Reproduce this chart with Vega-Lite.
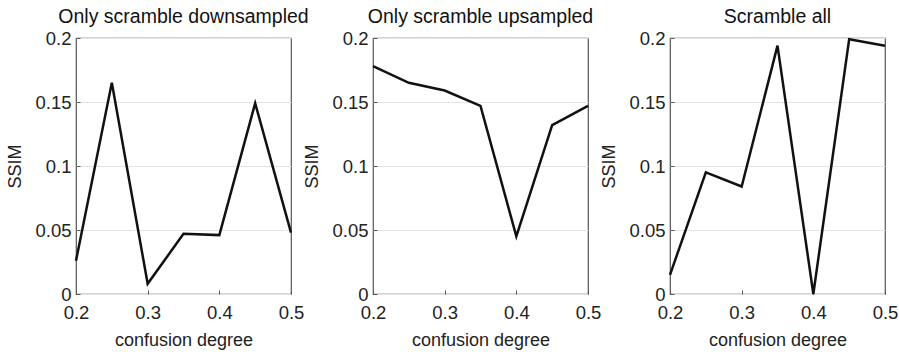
{
  "$schema": "https://vega.github.io/schema/vega-lite/v6.json",
  "padding": {"left": 6, "top": 5, "right": 10, "bottom": 1},
  "background": "white",
  "data": {"values": [
    {"panel": "A", "x": 0.2, "y": 0.026}, {"panel": "A", "x": 0.25, "y": 0.165}, {"panel": "A", "x": 0.3, "y": 0.008}, {"panel": "A", "x": 0.35, "y": 0.047}, {"panel": "A", "x": 0.4, "y": 0.046}, {"panel": "A", "x": 0.45, "y": 0.149}, {"panel": "A", "x": 0.5, "y": 0.048},
    {"panel": "B", "x": 0.2, "y": 0.178}, {"panel": "B", "x": 0.25, "y": 0.165}, {"panel": "B", "x": 0.3, "y": 0.159}, {"panel": "B", "x": 0.35, "y": 0.147}, {"panel": "B", "x": 0.4, "y": 0.045}, {"panel": "B", "x": 0.45, "y": 0.132}, {"panel": "B", "x": 0.5, "y": 0.147},
    {"panel": "C", "x": 0.2, "y": 0.015}, {"panel": "C", "x": 0.25, "y": 0.095}, {"panel": "C", "x": 0.3, "y": 0.084}, {"panel": "C", "x": 0.35, "y": 0.194}, {"panel": "C", "x": 0.4, "y": 0.0}, {"panel": "C", "x": 0.45, "y": 0.199}, {"panel": "C", "x": 0.5, "y": 0.194}
  ]},
  "spacing": 82,
  "bounds": "flush",
  "hconcat": [
    {
      "title": "Only scramble downsampled",
      "width": 215, "height": 256,
      "transform": [{"filter": "datum.panel === 'A'"}],
      "mark": {"type": "line", "color": "#111", "strokeWidth": 2.5},
      "encoding": {
        "x": {"field": "x", "type": "quantitative", "scale": {"domain": [0.2, 0.5], "nice": false}, "axis": {"title": "confusion degree", "values": [0.2, 0.3, 0.4, 0.5], "format": ".1f", "grid": false}},
        "y": {"field": "y", "type": "quantitative", "scale": {"domain": [0, 0.2], "nice": false}, "axis": {"title": "SSIM", "values": [0, 0.05, 0.1, 0.15, 0.2], "labelExpr": "'' + datum.value"}}
      }
    },
    {
      "title": "Only scramble upsampled",
      "width": 215, "height": 256,
      "transform": [{"filter": "datum.panel === 'B'"}],
      "mark": {"type": "line", "color": "#111", "strokeWidth": 2.5},
      "encoding": {
        "x": {"field": "x", "type": "quantitative", "scale": {"domain": [0.2, 0.5], "nice": false}, "axis": {"title": "confusion degree", "values": [0.2, 0.3, 0.4, 0.5], "format": ".1f", "grid": false}},
        "y": {"field": "y", "type": "quantitative", "scale": {"domain": [0, 0.2], "nice": false}, "axis": {"title": "SSIM", "values": [0, 0.05, 0.1, 0.15, 0.2], "labelExpr": "'' + datum.value"}}
      }
    },
    {
      "title": "Scramble all",
      "width": 215, "height": 256,
      "transform": [{"filter": "datum.panel === 'C'"}],
      "mark": {"type": "line", "color": "#111", "strokeWidth": 2.5},
      "encoding": {
        "x": {"field": "x", "type": "quantitative", "scale": {"domain": [0.2, 0.5], "nice": false}, "axis": {"title": "confusion degree", "values": [0.2, 0.3, 0.4, 0.5], "format": ".1f", "grid": false}},
        "y": {"field": "y", "type": "quantitative", "scale": {"domain": [0, 0.2], "nice": false}, "axis": {"title": "SSIM", "values": [0, 0.05, 0.1, 0.15, 0.2], "labelExpr": "'' + datum.value"}}
      }
    }
  ],
  "config": {
    "font": "Liberation Sans",
    "view": {"stroke": "#555", "strokeWidth": 1.2},
    "title": {"fontSize": 19.5, "fontWeight": "normal", "color": "#111", "offset": 2, "anchor": "middle"},
    "axis": {
      "labelFontSize": 18.5, "titleFontSize": 18, "titleFontWeight": "normal",
      "labelColor": "#222", "titleColor": "#222",
      "domain": false, "tickColor": "#555", "tickSize": -4,
      "gridColor": "#e4e4e4", "labelFlush": false
    },
    "axisX": {"labelPadding": 13, "titlePadding": 10},
    "axisY": {"labelPadding": 9, "titlePadding": 10}
  }
}
